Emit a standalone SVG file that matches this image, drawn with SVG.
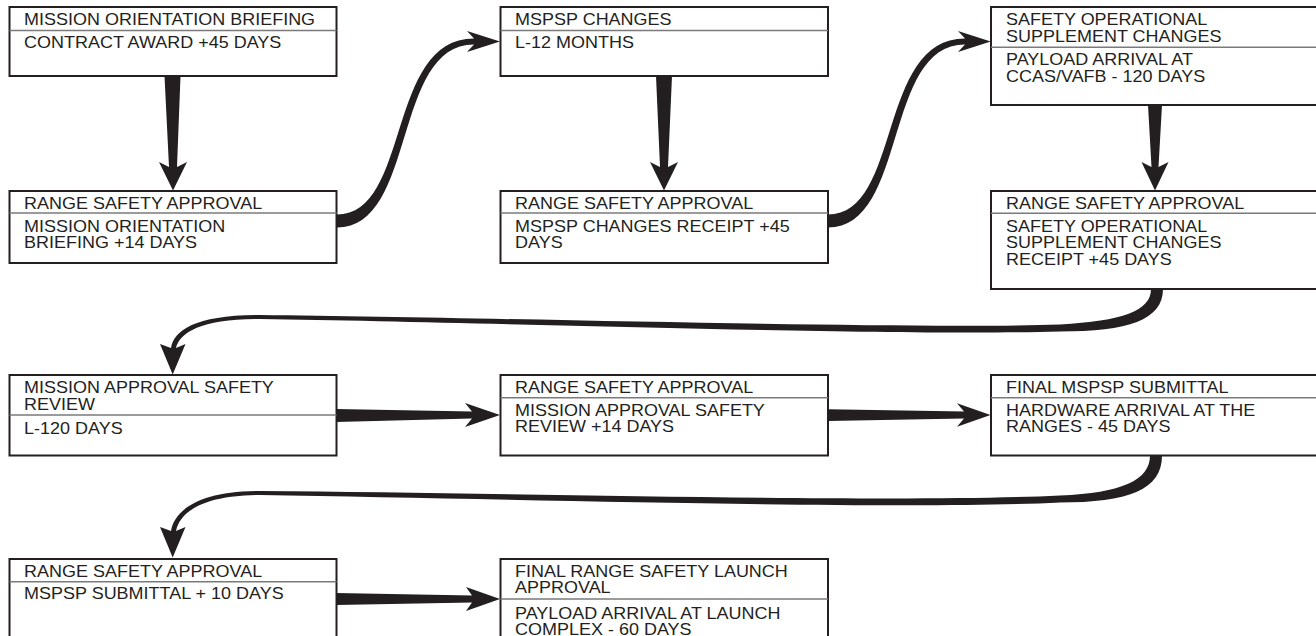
<svg xmlns="http://www.w3.org/2000/svg" width="1316" height="636" viewBox="0 0 1316 636">
<style>
.box{fill:#fff;stroke:#231f20;stroke-width:2}
.dv{stroke:#7a7a7a;stroke-width:1.5;fill:none}
.t{font-family:"Liberation Sans",Arial,sans-serif;font-size:16px;fill:#231f20}
.conn{fill:#231f20;stroke:none}
</style>
<rect width="1316" height="636" fill="#fff"/>
<g id="connectors">
<path class="conn" d="M164.5,76 L180.5,76 L177,167 L187,162 L173,190.5 L159,162 L169,167 Z"/>
<path class="conn" d="M656,76 L672,76 L668,167 L678,162 L664,190.5 L650,162 L660,167 Z"/>
<path class="conn" d="M1148,105 L1162,105 L1158.5,167 L1168.5,162 L1155,190.5 L1141.5,162 L1151.5,167 Z"/>
<path class="conn" d="M337,214.5 C411,214.5 386,38.5 474,38.5 L467,31 L500,41.5 L467,52 L474,44.5 C392,44.5 417,227.5 337,227.5 Z"/>
<path class="conn" d="M828,214.5 C902,214.5 877,38.5 965,38.5 L958,31 L990.7,41.5 L958,52 L965,44.5 C883,44.5 908,227.5 828,227.5 Z"/>
<path class="conn" d="M1163,289 C1163,320 1128,331.5 1060,331.5 C900,336.5 500,322.5 260,319 C202,319 180,332 176,348 L185.5,344 L172.7,374.5 L160,344 L171,348 C174,330 196,315 260,315 C500,317.5 900,329.5 1060,324.5 C1122,321 1151,311 1151,289 Z"/>
<path class="conn" d="M1162,455.5 C1162,490 1128,502.5 1060,502.5 C900,510.5 520,499 260,495 C202,495.5 180,512 176,531 L185.5,527 L172.7,557.5 L160,527 L171,531 C174,512 196,491 260,491 C520,493 900,503.5 1060,495.5 C1122,493 1150,480 1150,455.5 Z"/>
<path class="conn" d="M336,409 L472,411.5 L465,403 L500,415 L465,427 L472,418.5 L336,422 Z"/>
<path class="conn" d="M828,409.3 L964,411.5 L957,403.3 L990.5,415 L957,426.7 L964,418.5 L828,421 Z"/>
<path class="conn" d="M336,593 L472,595.5 L466,587 L500,599 L466,611 L472,602.5 L336,605 Z"/>
</g>
<g id="n1">
<rect class="box" x="9.5" y="7" width="327" height="69"/>
<line class="dv" x1="9.5" y1="30.5" x2="336.5" y2="30.5"/>
<text class="t" transform="matrix(1.125 0 0 1 24 25)">MISSION ORIENTATION BRIEFING</text>
<text class="t" transform="matrix(1.125 0 0 1 24 47.5)">CONTRACT AWARD +45 DAYS</text>
</g>
<g id="n2">
<rect class="box" x="9.5" y="191" width="327" height="72"/>
<line class="dv" x1="9.5" y1="213" x2="336.5" y2="213"/>
<text class="t" transform="matrix(1.125 0 0 1 24 208.5)">RANGE SAFETY APPROVAL</text>
<text class="t" transform="matrix(1.125 0 0 1 24 231.5)">MISSION ORIENTATION</text>
<text class="t" transform="matrix(1.125 0 0 1 24 248)">BRIEFING +14 DAYS</text>
</g>
<g id="n3">
<rect class="box" x="500.5" y="7" width="327.5" height="69"/>
<line class="dv" x1="500.5" y1="30.5" x2="828" y2="30.5"/>
<text class="t" transform="matrix(1.125 0 0 1 515 25)">MSPSP CHANGES</text>
<text class="t" transform="matrix(1.125 0 0 1 515 47.5)">L-12 MONTHS</text>
</g>
<g id="n4">
<rect class="box" x="500.5" y="191" width="327.5" height="72"/>
<line class="dv" x1="500.5" y1="213" x2="828" y2="213"/>
<text class="t" transform="matrix(1.125 0 0 1 515 208.5)">RANGE SAFETY APPROVAL</text>
<text class="t" transform="matrix(1.125 0 0 1 515 231.5)">MSPSP CHANGES RECEIPT +45</text>
<text class="t" transform="matrix(1.125 0 0 1 515 248)">DAYS</text>
</g>
<g id="n5">
<rect class="box" x="991" y="7" width="340" height="98"/>
<line class="dv" x1="991" y1="47.3" x2="1331" y2="47.3"/>
<text class="t" transform="matrix(1.125 0 0 1 1006 24.8)">SAFETY OPERATIONAL</text>
<text class="t" transform="matrix(1.125 0 0 1 1006 41.5)">SUPPLEMENT CHANGES</text>
<text class="t" transform="matrix(1.125 0 0 1 1006 64.8)">PAYLOAD ARRIVAL AT</text>
<text class="t" transform="matrix(1.125 0 0 1 1006 81.5)">CCAS/VAFB - 120 DAYS</text>
</g>
<g id="n6">
<rect class="box" x="991" y="191" width="340" height="98"/>
<line class="dv" x1="991" y1="213.3" x2="1331" y2="213.3"/>
<text class="t" transform="matrix(1.125 0 0 1 1006 208.5)">RANGE SAFETY APPROVAL</text>
<text class="t" transform="matrix(1.125 0 0 1 1006 231.5)">SAFETY OPERATIONAL</text>
<text class="t" transform="matrix(1.125 0 0 1 1006 248.2)">SUPPLEMENT CHANGES</text>
<text class="t" transform="matrix(1.125 0 0 1 1006 264.8)">RECEIPT +45 DAYS</text>
</g>
<g id="n7">
<rect class="box" x="9.5" y="375" width="327" height="80.5"/>
<line class="dv" x1="9.5" y1="415" x2="336.5" y2="415"/>
<text class="t" transform="matrix(1.125 0 0 1 24 393)">MISSION APPROVAL SAFETY</text>
<text class="t" transform="matrix(1.125 0 0 1 24 409.5)">REVIEW</text>
<text class="t" transform="matrix(1.125 0 0 1 24 433.5)">L-120 DAYS</text>
</g>
<g id="n8">
<rect class="box" x="500.5" y="375" width="327.5" height="80.5"/>
<line class="dv" x1="500.5" y1="397.7" x2="828" y2="397.7"/>
<text class="t" transform="matrix(1.125 0 0 1 515 393)">RANGE SAFETY APPROVAL</text>
<text class="t" transform="matrix(1.125 0 0 1 515 415.5)">MISSION APPROVAL SAFETY</text>
<text class="t" transform="matrix(1.125 0 0 1 515 432.2)">REVIEW +14 DAYS</text>
</g>
<g id="n9">
<rect class="box" x="991" y="375" width="340" height="80.5"/>
<line class="dv" x1="991" y1="397.7" x2="1331" y2="397.7"/>
<text class="t" transform="matrix(1.125 0 0 1 1006 393)">FINAL MSPSP SUBMITTAL</text>
<text class="t" transform="matrix(1.125 0 0 1 1006 415.5)">HARDWARE ARRIVAL AT THE</text>
<text class="t" transform="matrix(1.125 0 0 1 1006 432.2)">RANGES - 45 DAYS</text>
</g>
<g id="n10">
<rect class="box" x="9.5" y="559" width="327" height="95"/>
<line class="dv" x1="9.5" y1="581.7" x2="336.5" y2="581.7"/>
<text class="t" transform="matrix(1.125 0 0 1 24 576.5)">RANGE SAFETY APPROVAL</text>
<text class="t" transform="matrix(1.125 0 0 1 24 599.3)">MSPSP SUBMITTAL + 10 DAYS</text>
</g>
<g id="n11">
<rect class="box" x="500.5" y="559" width="327.5" height="95"/>
<line class="dv" x1="500.5" y1="599" x2="828" y2="599"/>
<text class="t" transform="matrix(1.125 0 0 1 515 576.7)">FINAL RANGE SAFETY LAUNCH</text>
<text class="t" transform="matrix(1.125 0 0 1 515 593.3)">APPROVAL</text>
<text class="t" transform="matrix(1.125 0 0 1 515 618.5)">PAYLOAD ARRIVAL AT LAUNCH</text>
<text class="t" transform="matrix(1.125 0 0 1 515 634.5)">COMPLEX - 60 DAYS</text>
</g>
</svg>
